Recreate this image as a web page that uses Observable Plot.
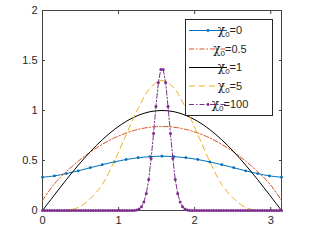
<!DOCTYPE html>
<html><head><meta charset="utf-8">
<script src="https://cdn.jsdelivr.net/npm/d3@7"></script>
<script src="https://cdn.jsdelivr.net/npm/@observablehq/plot@0.6"></script>
<style>body{margin:0;background:#fff}#chart{width:320px;height:241px}</style>
</head><body><div id="chart"></div>
<script>
// sample positions (data units)
const xGrid = d3.range(21).map(i => i * Math.PI / 20);
const xGridFine = d3.range(100).map(i => i * Math.PI / 99);

// series values
const chi0_0   = [0.333,0.346,0.369,0.397,0.428,0.458,0.486,0.510,0.528,0.539,0.543,0.539,0.528,0.510,0.486,0.458,0.428,0.397,0.369,0.346,0.333];
const chi0_05  = [0.10,0.268,0.389,0.494,0.584,0.661,0.725,0.775,0.811,0.833,0.840,0.833,0.811,0.775,0.725,0.661,0.584,0.494,0.389,0.268,0.10];
const chi0_1   = [0,0.156,0.309,0.454,0.588,0.707,0.809,0.891,0.951,0.988,1.0,0.988,0.951,0.891,0.809,0.707,0.588,0.454,0.309,0.156,0];
const chi0_5   = [0,0,0.003,0.03,0.12,0.26,0.49,0.758,1.02,1.224,1.30,1.224,1.02,0.758,0.49,0.26,0.12,0.03,0.003,0,0];
const chi0_100 = [0,0,0,0,0,0,0,0,0,0,0,0,0,0,0,0,0,0,0,0,0,0,0,0,0,0,0,0,0,0,0,0,0,0,0,0,0,0,0,
  0.006,0.015,0.038,0.084,0.17,0.31,0.52,0.77,1.04,1.28,1.41,1.41,1.28,1.04,0.77,0.52,0.31,0.17,0.084,0.038,0.015,0.006,
  0,0,0,0,0,0,0,0,0,0,0,0,0,0,0,0,0,0,0,0,0,0,0,0,0,0,0,0,0,0,0,0,0,0,0,0,0,0,0];

const seriesLabels = ["0","0.5","1","5","100"];
const xTicks = [0,1,2,3];
const xTickLabels = ["0","1","2","3"];
const yTicks = [0,0.5,1,1.5,2];
const yTickLabels = ["0","0.5","1","1.5","2"];

const colors = ["#0072BD","#D95319","#000000","#EDB120","#7E2F8E"];
const dashes = [null,"5,2,1.5,2",null,"6,4","5,2,1.5,2"];
const markers = [true,false,false,false,true];

const toPts = (xs, ys) => ys.map((y, i) => ({x: xs[i], y}));
const data = [
  toPts(xGrid, chi0_0),
  toPts(xGrid, chi0_05),
  toPts(xGrid, chi0_1),
  toPts(xGrid, chi0_5),
  toPts(xGridFine, chi0_100)
];

const marks = [];
data.forEach((d, i) => {
  marks.push(Plot.line(d, {x: "x", y: "y", stroke: colors[i], strokeWidth: 1,
    strokeDasharray: dashes[i] || undefined, curve: i === 4 ? "linear" : "catmull-rom"}));
  if (markers[i]) marks.push(Plot.dot(d, {x: "x", y: "y", r: i === 4 ? 1.5 : 1.4, fill: colors[i]}));
});

const chart = Plot.plot({
  width: 320, height: 241,
  marginLeft: 42, marginRight: 39, marginTop: 10, marginBottom: 31,
  style: {fontFamily: "Liberation Sans, Arial, sans-serif", fontSize: "11px", color: "#262626", background: "#fff", overflow: "visible"},
  x: {domain: [0, Math.PI]},
  y: {domain: [0, 2]},
  marks: [
    Plot.frame({stroke: "#444", strokeWidth: 1}),
    Plot.axisX({ticks: xTicks, tickSize: -3, tickPadding: 9, tickFormat: d => xTickLabels[xTicks.indexOf(d)], label: null, stroke: "#444"}),
    Plot.axisX({anchor: "top", ticks: xTicks, tickSize: -3, tickFormat: () => "", label: null, stroke: "#444"}),
    Plot.axisY({ticks: yTicks, tickSize: -3, tickPadding: 8, tickFormat: d => yTickLabels[yTicks.indexOf(d)], label: null, stroke: "#444"}),
    Plot.axisY({anchor: "right", ticks: yTicks, tickSize: -3, tickFormat: () => "", label: null, stroke: "#444"}),
    ...marks
  ]
});
document.getElementById("chart").appendChild(chart);

// legend
const svg = d3.select(chart);
const g = svg.append("g");
g.append("rect").attr("x", 185.5).attr("y", 19.5).attr("width", 87).attr("height", 96)
  .attr("fill", "#fff").attr("stroke", "#262626").attr("stroke-width", 1);
seriesLabels.forEach((lab, i) => {
  const yy = 30.5 + i * 18.5;
  g.append("line").attr("x1", 189).attr("x2", 227).attr("y1", yy).attr("y2", yy)
    .attr("stroke", colors[i]).attr("stroke-width", 1)
    .attr("stroke-dasharray", dashes[i]);
  if (markers[i]) g.append("circle").attr("cx", 208).attr("cy", yy).attr("r", 1.4).attr("fill", colors[i]);
  const t = g.append("text").attr("x", 230).attr("y", yy + 3.5)
    .attr("fill", "#262626").attr("font-family", "Liberation Sans, Arial, sans-serif").attr("font-size", 11);
  t.append("tspan").attr("font-family", "DejaVu Serif, Liberation Serif, serif").attr("font-size", 12).text("χ");
  t.append("tspan").attr("font-size", 8).attr("dy", 3).text("0");
  t.append("tspan").attr("dy", -3).text("=" + lab);
});
</script>
</body></html>
